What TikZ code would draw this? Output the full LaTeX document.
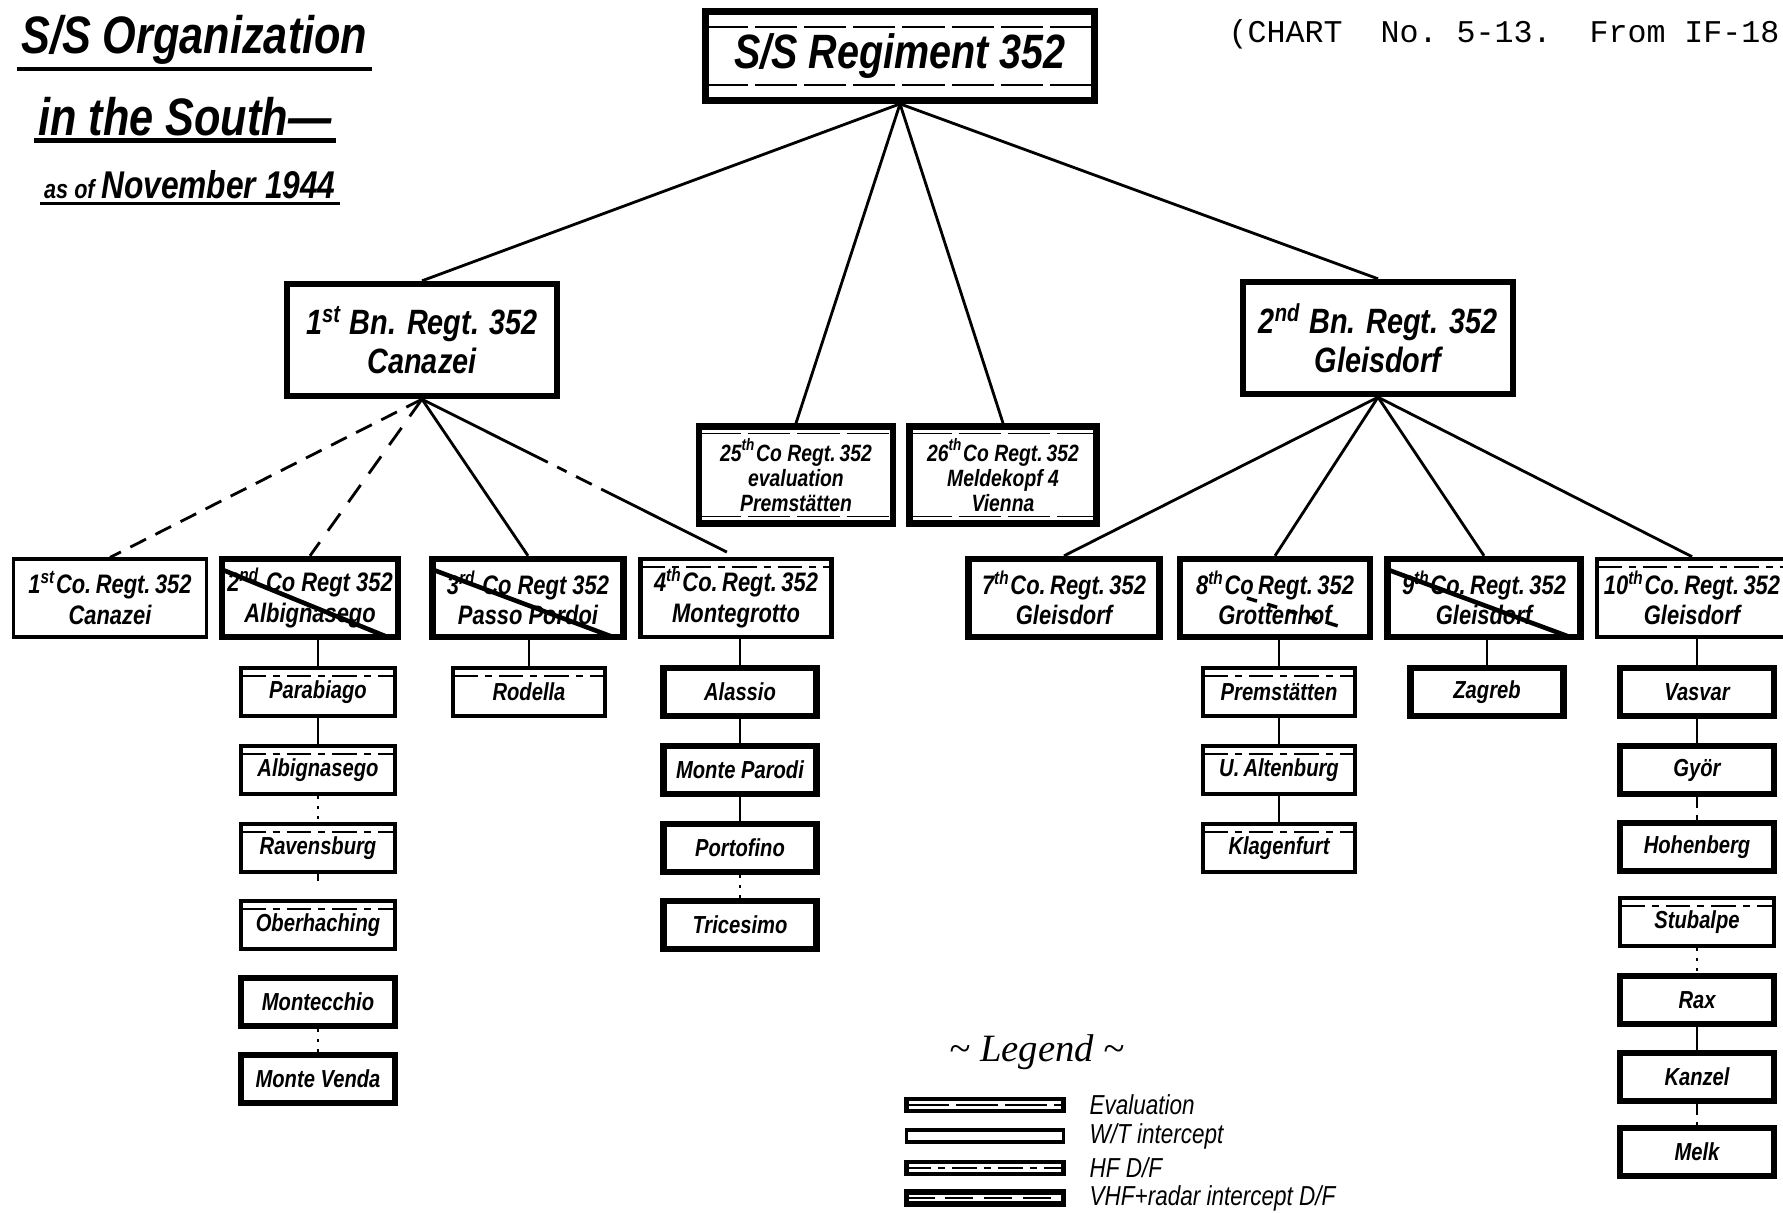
\documentclass[tikz,border=0pt]{standalone}
\usepackage{fontspec}
\setmainfont{Liberation Sans}[FakeStretch=0.82]
\newfontfamily\typefont{Liberation Mono}
\newfontfamily\legendfont{Liberation Serif}
\usepackage{tikz}

\begin{document}
\begin{tikzpicture}[x=0.01cm, y=-0.01cm,
  unit/.style={draw, align=center, inner sep=0pt, font=\bfseries\itshape},
  wtbox/.style={unit, line width=0.9pt},
  vhfbox/.style={unit, line width=1.8pt},
  hfbox/.style={unit, line width=1.3pt, path picture={\draw[line width=0.5pt, dash pattern=on 7pt off 2pt on 2pt off 2pt] ([yshift=-#1]path picture bounding box.north west) -- ([yshift=-#1]path picture bounding box.north east);}},
  hfbox/.default=2.2pt,
  evalbox/.style={unit, line width=1.9pt, path picture={\draw[line width=0.5pt, dash pattern=on 12pt off 2pt] ([yshift=-#1]path picture bounding box.north west) -- ([yshift=-#1]path picture bounding box.north east) ([yshift=#1]path picture bounding box.south west) -- ([yshift=#1]path picture bounding box.south east);}},
  evalbox/.default=2pt,
  crossed/.style={path picture={\draw[line width=1.3pt] ([yshift=-3pt]path picture bounding box.north west) -- ([xshift=-3pt]path picture bounding box.south east);}},
  halfcrossed/.style={path picture={\draw[line width=1pt, dashed] ([xshift=-8pt]path picture bounding box.center) -- ([xshift=-7pt, yshift=2.5pt]path picture bounding box.south east);}},
  bn/.style={minimum width=2.7cm, minimum height=1.12cm, font=\fontsize{10}{11}\selectfont\bfseries\itshape},
  co/.style={minimum width=1.91cm, minimum height=0.78cm, font=\fontsize{7.6}{8.6}\selectfont\bfseries\itshape},
  site/.style={minimum width=1.54cm, minimum height=0.48cm, font=\fontsize{7}{8}\selectfont\bfseries\itshape},
  heading/.style={inner sep=1pt, font=\fontsize{15}{17}\selectfont\bfseries\itshape},
  link/.style={line width=0.8pt},
  legbar/.style={minimum width=1.57cm, minimum height=0.12cm},
  legtext/.style={anchor=west, inner sep=0pt, font=\fontsize{7.8}{9}\selectfont\itshape}]
\useasboundingbox (0,0) rectangle (1783,1212);
%
\node[heading, anchor=west] (title1) at (17,40) {S/S Organization};
\node[heading, anchor=west] (title2) at (34,117) {in the South—};
\node[heading, anchor=west, font=\fontsize{11}{12}\selectfont\bfseries\itshape] (title3) at (40,185) {{\fontsize{7.5}{8}\selectfont as of}\,November 1944};
\draw[line width=1.3pt] (title1.south west) -- (title1.south east);
\draw[line width=1.3pt] (title2.south west) -- (title2.south east);
\draw[line width=1pt] (title3.south west) -- (title3.south east);
\node[anchor=west, inner sep=0pt, font=\typefont\fontsize{9}{10}\selectfont] (chart) at (1228,34) {(CHART~~No.~5-13.~~From IF-18};
%
\node[evalbox=4.5pt, minimum width=3.89cm, minimum height=0.89cm, font=\fontsize{13.7}{15}\selectfont\bfseries\itshape] (reg) at (900,56) {S/S Regiment 352};
\node[vhfbox, bn] (bn1) at (422,340) {1\textsuperscript{st} Bn. Regt. 352\\Canazei};
\node[vhfbox, bn] (bn2) at (1378,338) {2\textsuperscript{nd} Bn. Regt. 352\\Gleisdorf};
\node[evalbox, minimum width=1.94cm, minimum height=0.97cm, font=\fontsize{6.7}{7.1}\selectfont\bfseries\itshape] (co25) at (796,475) {25\textsuperscript{th}Co Regt.\,352\\evaluation\\Premstätten};
\node[evalbox, minimum width=1.87cm, minimum height=0.97cm, font=\fontsize{6.7}{7.1}\selectfont\bfseries\itshape] (co26) at (1003,475) {26\textsuperscript{th}Co Regt.\,352\\Meldekopf 4\\Vienna};
%
\node[wtbox, co, minimum width=1.93cm] (co1) at (110,598) {1\textsuperscript{st}Co.\,Regt.\,352\\Canazei};
\node[vhfbox, co, crossed, minimum width=1.76cm] (co2) at (310,598) {2\textsuperscript{nd} Co Regt 352\\Albignasego};
\node[vhfbox, co, crossed] (co3) at (528,598) {3\textsuperscript{rd} Co Regt 352\\Passo Pordoi};
\node[hfbox, co] (co4) at (736,598) {4\textsuperscript{th}Co.\,Regt.\,352\\Montegrotto};
\node[vhfbox, co] (co7) at (1064,598) {7\textsuperscript{th}Co.\,Regt.\,352\\Gleisdorf};
\node[vhfbox, co, halfcrossed, minimum width=1.9cm] (co8) at (1275,598) {8\textsuperscript{th}Co\,Regt.\,352\\Grottenhof};
\node[vhfbox, co, crossed, minimum width=1.93cm] (co9) at (1484,598) {9\textsuperscript{th}Co.\,Regt.\,352\\Gleisdorf};
\node[hfbox, co, minimum width=1.9cm] (co10) at (1692,598) {10\textsuperscript{th}Co.\,Regt.\,352\\Gleisdorf};
%
\node[hfbox, site] (parabiago) at (318,692) {Parabiago};
\node[hfbox, site] (albignasego) at (318,770) {Albignasego};
\node[hfbox, site] (ravensburg) at (318,848) {Ravensburg};
\node[hfbox, site] (oberhaching) at (318,925) {Oberhaching};
\node[vhfbox, site] (montecchio) at (318,1002) {Montecchio};
\node[vhfbox, site] (montevenda) at (318,1079) {Monte Venda};
\node[hfbox, site, minimum width=1.52cm] (rodella) at (529,692) {Rodella};
\node[vhfbox, site, minimum width=1.53cm] (alassio) at (740,692) {Alassio};
\node[vhfbox, site, minimum width=1.53cm] (parodi) at (740,770) {Monte Parodi};
\node[vhfbox, site, minimum width=1.53cm] (portofino) at (740,848) {Portofino};
\node[vhfbox, site, minimum width=1.53cm] (tricesimo) at (740,925) {Tricesimo};
\node[hfbox, site, minimum width=1.52cm] (premstaetten) at (1279,692) {Premstätten};
\node[hfbox, site, minimum width=1.52cm] (altenburg) at (1279,770) {U.\,Altenburg};
\node[hfbox, site, minimum width=1.52cm] (klagenfurt) at (1279,848) {Klagenfurt};
\node[vhfbox, site, minimum width=1.53cm] (zagreb) at (1487,692) {Zagreb};
\node[vhfbox, site] (vasvar) at (1697,692) {Vasvar};
\node[vhfbox, site] (gyoer) at (1697,770) {Györ};
\node[vhfbox, site] (hohenberg) at (1697,847) {Hohenberg};
\node[hfbox, site] (stubalpe) at (1697,922) {Stubalpe};
\node[vhfbox, site] (rax) at (1697,1000) {Rax};
\node[vhfbox, site] (kanzel) at (1697,1077) {Kanzel};
\node[vhfbox, site] (melk) at (1697,1152) {Melk};
%
\draw[link] (reg.south) -- (bn1.north);
\draw[link] (reg.south) -- (co25.north);
\draw[link] (reg.south) -- (co26.north);
\draw[link] (reg.south) -- (bn2.north);
\draw[link, dash pattern=on 5pt off 3pt] (bn1.south) -- (co1.north);
\draw[link, dash pattern=on 6pt off 4pt] (bn1.south) -- (co2.north);
\draw[link] (bn1.south) -- (co3.north);
\draw[link, dash pattern=on 40pt off 3pt on 3pt off 3pt on 5pt off 3pt] (bn1.south) -- (co4.north);
\draw[link] (bn2.south) -- (co7.north);
\draw[link] (bn2.south) -- (co8.north);
\draw[link] (bn2.south) -- (co9.north);
\draw[link] (bn2.south) -- (co10.north);
%
\draw[link] (parabiago.north |- co2.south) -- (parabiago.north);
\draw[link] (parabiago.south) -- (albignasego.north);
\draw[link, dotted] (albignasego.south) -- (ravensburg.north);
\draw[link] (ravensburg.south) -- ([yshift=-2pt]ravensburg.south);
\draw[link, dotted] (montecchio.south) -- (montevenda.north);
\draw[link] (rodella.north |- co3.south) -- (rodella.north);
\draw[link] (alassio.north |- co4.south) -- (alassio.north);
\draw[link] (alassio.south) -- (parodi.north);
\draw[link] (parodi.south) -- (portofino.north);
\draw[link, dotted] (portofino.south) -- (tricesimo.north);
\draw[link] (premstaetten.north |- co8.south) -- (premstaetten.north);
\draw[link] (premstaetten.south) -- (altenburg.north);
\draw[link] (altenburg.south) -- (klagenfurt.north);
\draw[link] (zagreb.north |- co9.south) -- (zagreb.north);
\draw[link] (vasvar.north |- co10.south) -- (vasvar.north);
\draw[link] (vasvar.south) -- (gyoer.north);
\draw[link, dash pattern=on 3pt off 2pt] (gyoer.south) -- (hohenberg.north);
\draw[link, dotted] (stubalpe.south) -- (rax.north);
\draw[link] (rax.south) -- (kanzel.north);
\draw[link, dash pattern=on 3pt off 2pt] (kanzel.south) -- (melk.north);
%
\node[font=\legendfont\itshape\fontsize{11}{12}\selectfont] (legend) at (1037,1052) {\~{} Legend \~{}};
\node[evalbox=1.7pt, legbar, line width=1.3pt] (legeval) at (985,1105) {};
\node[wtbox, legbar] (legwt) at (985,1136) {};
\node[hfbox=1.7pt, legbar] (leghf) at (985,1168) {};
\node[vhfbox, legbar, line width=1.5pt, path picture={\draw[line width=0.6pt, dash pattern=on 8pt off 3pt] (path picture bounding box.west) -- (path picture bounding box.east);}] (legvhf) at (985,1198) {};
\node[legtext] (legevaltxt) at (1089,1105) {Evaluation};
\node[legtext] (legwttxt) at (1089,1136) {W/T intercept};
\node[legtext] (leghftxt) at (1089,1168) {HF D/F};
\node[legtext] (legvhftxt) at (1089,1198) {VHF+radar intercept D/F};
%
\end{tikzpicture}
\end{document}
